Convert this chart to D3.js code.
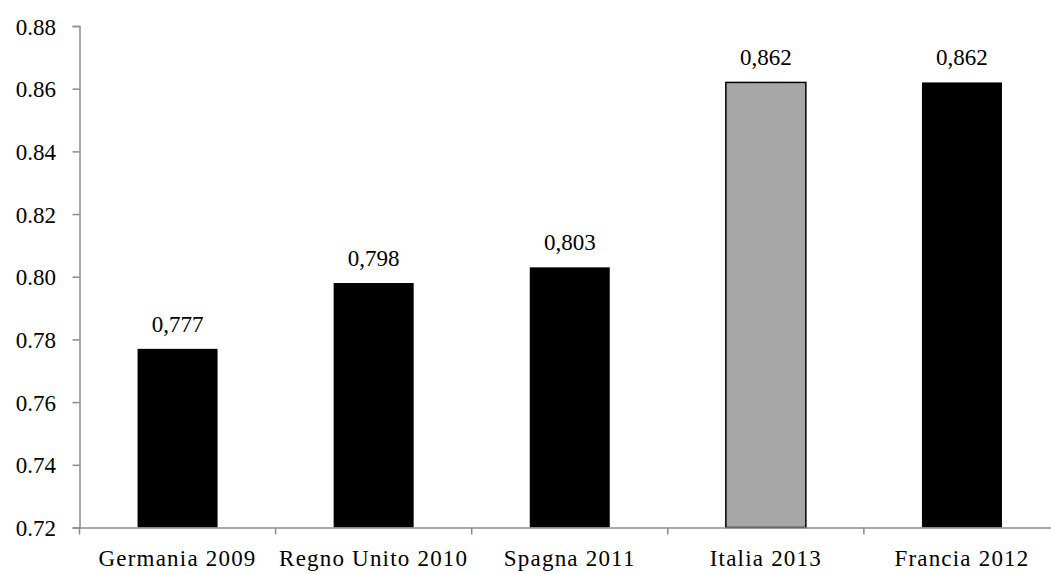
<!DOCTYPE html>
<html>
<head>
<meta charset="utf-8">
<script src="https://cdn.jsdelivr.net/npm/d3@7/dist/d3.min.js"></script>
<style>
  html, body { margin: 0; padding: 0; background: #fff; }
  svg { display: block; }
</style>
</head>
<body>
<svg id="chart" width="1051" height="574"></svg>
<script>
// Data
const categories = ["Germania 2009", "Regno Unito 2010", "Spagna 2011", "Italia 2013", "Francia 2012"];
const values = [0.777, 0.798, 0.803, 0.862, 0.862];
const valueLabels = ["0,777", "0,798", "0,803", "0,862", "0,862"];
const highlight = ["Italia 2013"];
const yTicks = [0.72, 0.74, 0.76, 0.78, 0.80, 0.82, 0.84, 0.86, 0.88];

const fontFamily = "'Liberation Serif', 'Times New Roman', serif";
const fontSize = 23;

const svg = d3.select("#chart");
const plotLeft = 79.5, plotRight = 1060, plotTop = 26, plotBottom = 527.5;

const x = d3.scaleBand().domain(categories).range([plotLeft, plotRight]).paddingInner(0.592).paddingOuter(0.296);
const xOuter = d3.scaleBand().domain(categories).range([plotLeft, plotRight]);
const y = d3.scaleLinear().domain([0.72, 0.88]).range([plotBottom, plotTop]);

const axisColor = "#8c8c8c";

// Bars
svg.selectAll("rect.bar").data(categories).enter().append("rect")
  .attr("class", "bar")
  .attr("x", d => x(d))
  .attr("width", x.bandwidth())
  .attr("y", (d, i) => y(values[i]))
  .attr("height", (d, i) => y(0.72) - y(values[i]))
  .attr("fill", d => highlight.includes(d) ? "#a6a6a6" : "#000")
  .attr("stroke", d => highlight.includes(d) ? "#000" : "none")
  .attr("stroke-width", 1.5);

// Value labels
svg.selectAll("text.val").data(categories).enter().append("text")
  .attr("class", "val")
  .attr("x", d => x(d) + x.bandwidth() / 2)
  .attr("y", (d, i) => y(values[i]) - 17)
  .attr("text-anchor", "middle")
  .style("font-family", fontFamily)
  .style("font-size", fontSize + "px")
  .style("fill", "#000")
  .text((d, i) => valueLabels[i]);

// Y axis
const yAxis = d3.axisLeft(y).tickValues(yTicks).tickFormat(d3.format(".2f")).tickSizeOuter(0).tickSize(7).tickPadding(16.5);
const gy = svg.append("g").attr("transform", `translate(${plotLeft},0)`).call(yAxis);
gy.select(".domain").attr("stroke", axisColor).attr("stroke-width", 1.5);
gy.selectAll(".tick line").attr("stroke", axisColor).attr("stroke-width", 1.5);
gy.selectAll(".tick text")
  .style("font-family", fontFamily).style("font-size", fontSize + "px").style("fill", "#000")
  .attr("dy", "0.35em");

// X axis
const xAxis = d3.axisBottom(xOuter).tickSize(0).tickPadding(22);
const gx = svg.append("g").attr("transform", `translate(0,${plotBottom})`).call(xAxis);
gx.select(".domain").attr("stroke", axisColor).attr("stroke-width", 1.5);
gx.selectAll(".tick text")
  .style("font-family", fontFamily).style("font-size", fontSize + "px").style("fill", "#000")
  .style("letter-spacing", "1.2px");
// Category separator ticks at band boundaries
gx.selectAll("line.sep").data(categories).enter().append("line")
  .attr("class", "sep")
  .attr("x1", d => xOuter(d)).attr("x2", d => xOuter(d))
  .attr("y1", 0).attr("y2", 7)
  .attr("stroke", axisColor).attr("stroke-width", 1.5);
</script>
</body>
</html>
